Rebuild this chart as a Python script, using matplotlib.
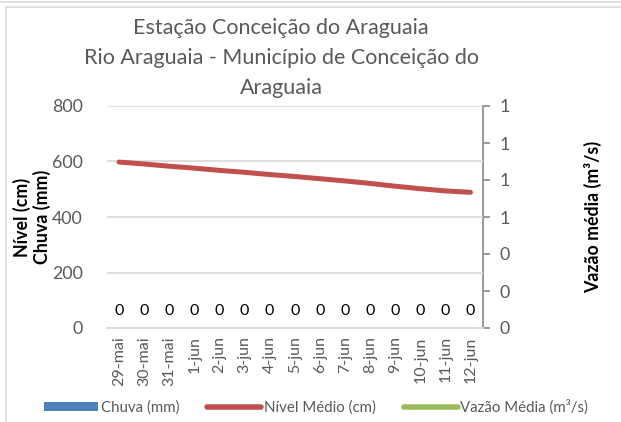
import matplotlib
matplotlib.use("Agg")
import matplotlib.pyplot as plt
from matplotlib.patches import Rectangle
from matplotlib.lines import Line2D
from matplotlib.patches import Patch
from matplotlib.ticker import FuncFormatter

plt.rcParams['font.family'] = ['Lato', 'DejaVu Sans']

dates = ["29-mai", "30-mai", "31-mai", "1-jun", "2-jun", "3-jun", "4-jun", "5-jun",
         "6-jun", "7-jun", "8-jun", "9-jun", "10-jun", "11-jun", "12-jun"]
chuva = [0, 0, 0, 0, 0, 0, 0, 0, 0, 0, 0, 0, 0, 0, 0]
nivel = [598, 591, 583, 576, 568, 561, 553, 546, 538, 530, 521, 511, 502, 494, 489]
vazao = [0, 0, 0, 0, 0, 0, 0, 0, 0, 0, 0, 0, 0, 0, 0]

title = "Estação Conceição do Araguaia\nRio Araguaia - Município de Conceição do\nAraguaia"

W, H = 621, 422
fig = plt.figure(figsize=(W / 100, H / 100), dpi=100)
fig.patch.set_facecolor("white")

# chart border
fig.add_artist(Rectangle((6 / W, -0.1), 1.2, (H - 7) / H + 0.1, transform=fig.transFigure,
                         fill=False, edgecolor="#d9d9d9", lw=1.2))
fig.add_artist(Line2D([0, 1], [1 - 1.5 / H, 1 - 1.5 / H], transform=fig.transFigure,
                      color="#d9d9d9", lw=1.2))

x0, x1 = 106.5, 483
y0, y1 = 328, 106
rect = [x0 / W, 1 - y0 / H, (x1 - x0) / W, (y0 - y1) / H]
ax2 = fig.add_axes(rect)
ax = fig.add_axes(rect, sharex=ax2)
ax.patch.set_visible(False)
ax2.yaxis.tick_right()
ax2.yaxis.set_label_position("right")

x = list(range(len(dates)))
grey = "#595959"

ax.bar(x, chuva, width=0.6, color="#4f81bd", zorder=2)
ax.plot(x, nivel, color="#c0504d", lw=3.6, solid_capstyle="round", zorder=3)
ax2.plot(x, vazao, color="#9bbb59", lw=2.0, zorder=1)

for xi, v in zip(x, chuva):
    ax.annotate(f"{v:.0f}", (xi, v), xytext=(0, 7), textcoords="offset points",
                ha="center", va="bottom", fontsize=11.5, color="black")

ax.set_xlim(-0.5, len(dates) - 0.5)
ax.set_ylim(0, 800)
ax.set_yticks([0, 200, 400, 600, 800])
ax2.set_ylim(0, 1.2)
ax2.set_yticks([0, 0.2, 0.4, 0.6, 0.8, 1.0, 1.2])
ax2.yaxis.set_major_formatter(FuncFormatter(lambda v, p: f"{v:.0f}"))

ax.set_xticks(x)
ax.set_xticklabels(dates, rotation=90)
ax2.tick_params(axis="x", bottom=False, labelbottom=False)
ax.grid(axis="y", color="#d9d9d9", lw=1.2, zorder=0)
ax.set_axisbelow(True)

for s in ["top", "right", "left"]:
    ax.spines[s].set_visible(False)
ax.spines["bottom"].set_color("#d9d9d9")
ax.spines["bottom"].set_linewidth(1.4)
for s in ["top", "left", "bottom"]:
    ax2.spines[s].set_visible(False)
ax2.spines["right"].set_color("#868686")
ax2.spines["right"].set_linewidth(1.2)

ax.tick_params(axis="y", length=0, pad=17, labelsize=12.8, labelcolor=grey)
ax.tick_params(axis="x", length=0, pad=6, labelsize=11.5, labelcolor=grey)
ax2.tick_params(axis="y", length=5, width=1.2, color="#868686", pad=7,
                labelsize=12.8, labelcolor=grey)

fig.text(22 / W, 1 - 217 / H, "Nível (cm)", rotation=90, ha="center", va="center",
         fontsize=12.8, fontweight="bold")
fig.text(42 / W, 1 - 217 / H, "Chuva (mm)", rotation=90, ha="center", va="center",
         fontsize=12.8, fontweight="bold")
fig.text(593 / W, 1 - 217 / H, "Vazão média (m³/s)", rotation=90, ha="center", va="center",
         fontsize=12.8, fontweight="bold")

fig.text(281 / W, 1 - 58 / H, title, ha="center", va="center", fontsize=15.5,
         color=grey, linespacing=1.6)

handles = [Patch(facecolor="#4f81bd"),
           Line2D([], [], color="#c0504d", lw=4, solid_capstyle="round"),
           Line2D([], [], color="#9bbb59", lw=4, solid_capstyle="round")]
labels = ["Chuva (mm)", "Nível Médio (cm)", "Vazão Média (m³/s)"]
fig.legend(handles, labels, loc="center", bbox_to_anchor=(316 / W, 1 - 407 / H), ncol=3,
           frameon=False, fontsize=10.8, handlelength=3.6, handleheight=0.58,
           handletextpad=0.2, columnspacing=1.85, labelcolor=grey)

fig.savefig("out.png", dpi=100, facecolor="white")
